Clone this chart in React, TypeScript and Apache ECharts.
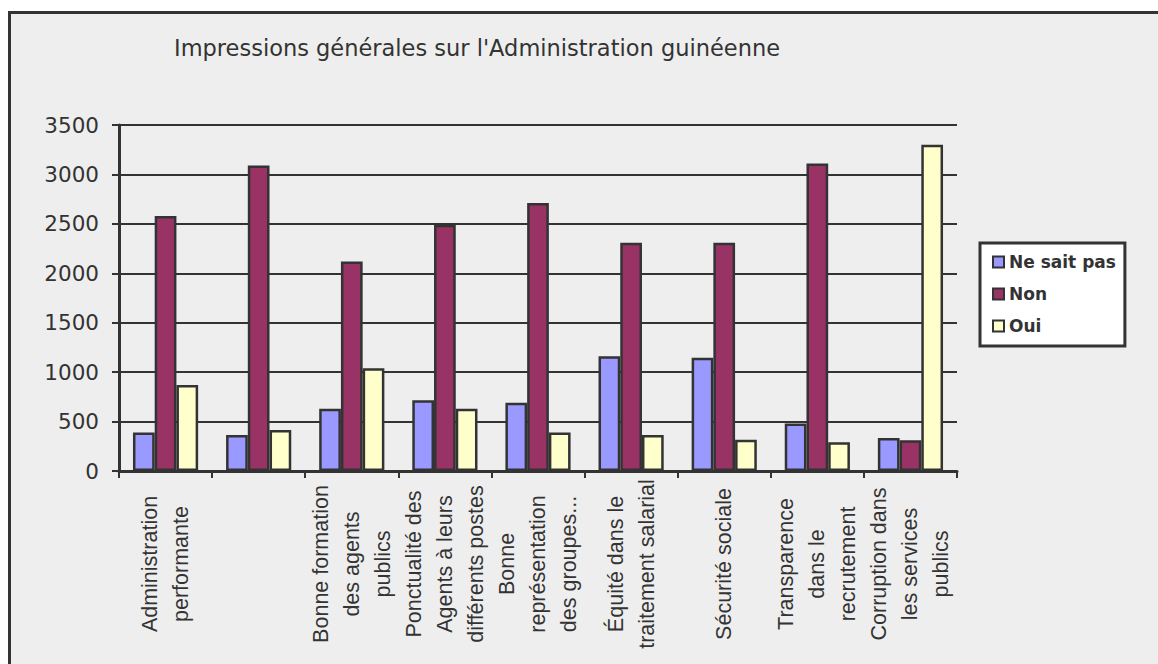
import React, { useEffect, useRef } from "react";
import * as echarts from "echarts";

const TITLE = "Impressions générales sur l'Administration guinéenne";

const categories = [
  "Administration\nperformante",
  "",
  "Bonne formation\ndes agents\npublics",
  "Ponctualité des\nAgents à leurs\ndifférents postes",
  "Bonne\nreprésentation\ndes groupes...",
  "Équité dans le\ntraitement salarial",
  "Sécurité sociale",
  "Transparence\ndans le\nrecrutement",
  "Corruption dans\nles services\npublics",
];

const seriesNames = ["Ne sait pas", "Non", "Oui"];
const neSaitPas = [390, 365, 630, 715, 690, 1160, 1145, 480, 335];
const non = [2580, 3090, 2120, 2490, 2710, 2310, 2310, 3110, 310];
const oui = [870, 415, 1040, 630, 390, 365, 315, 290, 3300];
const colors = ["#9999FF", "#993366", "#FFFFCC"];

const yMin = 0;
const yMax = 3500;
const yInterval = 500;

export default function App() {
  const ref = useRef<HTMLDivElement>(null);

  useEffect(() => {
    if (!ref.current) return;
    const chart = echarts.init(ref.current, undefined, { renderer: "svg" });
    const values = [neSaitPas, non, oui];
    chart.setOption({
      animation: false,
      backgroundColor: "#FFFFFF",
      graphic: [
        {
          type: "rect",
          z: -10,
          silent: true,
          shape: { x: 9.5, y: 12.5, width: 1200, height: 700 },
          style: { fill: "#EEEEEE", stroke: "#333333", lineWidth: 3 },
        },
        {
          type: "text",
          x: 477,
          y: 48,
          style: {
            text: TITLE,
            fontFamily: "DejaVu Sans",
            fontSize: 22.5,
            fill: "#333333",
            align: "center",
            verticalAlign: "middle",
          },
        },
      ],
      grid: { left: 119, top: 125, width: 838, height: 346, containLabel: false },
      legend: {
        orient: "vertical",
        left: 980,
        top: 243,
        data: seriesNames,
        icon: "rect",
        itemWidth: 11,
        itemHeight: 11,
        itemGap: 12,
        padding: [9, 9, 10, 12],
        backgroundColor: "#FFFFFF",
        borderColor: "#333333",
        borderWidth: 3,
        borderRadius: 0,
        itemStyle: { borderColor: "#333333", borderWidth: 2 },
        textStyle: {
          fontFamily: "DejaVu Sans",
          fontWeight: "bold",
          fontSize: 17,
          lineHeight: 20,
          color: "#333333",
        },
      },
      xAxis: {
        type: "category",
        data: categories,
        axisLine: { show: true, lineStyle: { color: "#333333", width: 3 } },
        axisTick: { show: true, length: 7, lineStyle: { color: "#333333", width: 2 } },
        axisLabel: {
          interval: 0,
          rotate: 90,
          align: "center",
          verticalAlign: "middle",
          margin: 93,
          fontFamily: "Liberation Sans",
          fontSize: 21.5,
          lineHeight: 31,
          color: "#333333",
        },
      },
      yAxis: {
        type: "value",
        min: yMin,
        max: yMax,
        interval: yInterval,
        axisLine: { show: true, lineStyle: { color: "#333333", width: 3 } },
        axisTick: { show: true, length: 7, lineStyle: { color: "#333333", width: 2 } },
        splitLine: { show: true, lineStyle: { color: "#333333", width: 2 } },
        axisLabel: {
          margin: 20,
          fontFamily: "DejaVu Sans",
          fontSize: 21.5,
          color: "#333333",
          formatter: (v: number) => String(v),
        },
      },
      series: seriesNames.map((name, i) => ({
        name,
        type: "bar",
        data: values[i],
        barGap: "0%",
        barCategoryGap: "30%",
        itemStyle: { color: colors[i], borderColor: "#333333", borderWidth: 2.5 },
      })),
    });
    return () => chart.dispose();
  }, []);

  return (
    <div
      ref={ref}
      style={{ position: "absolute", left: 0, top: 0, width: 1158, height: 664 }}
    />
  );
}
